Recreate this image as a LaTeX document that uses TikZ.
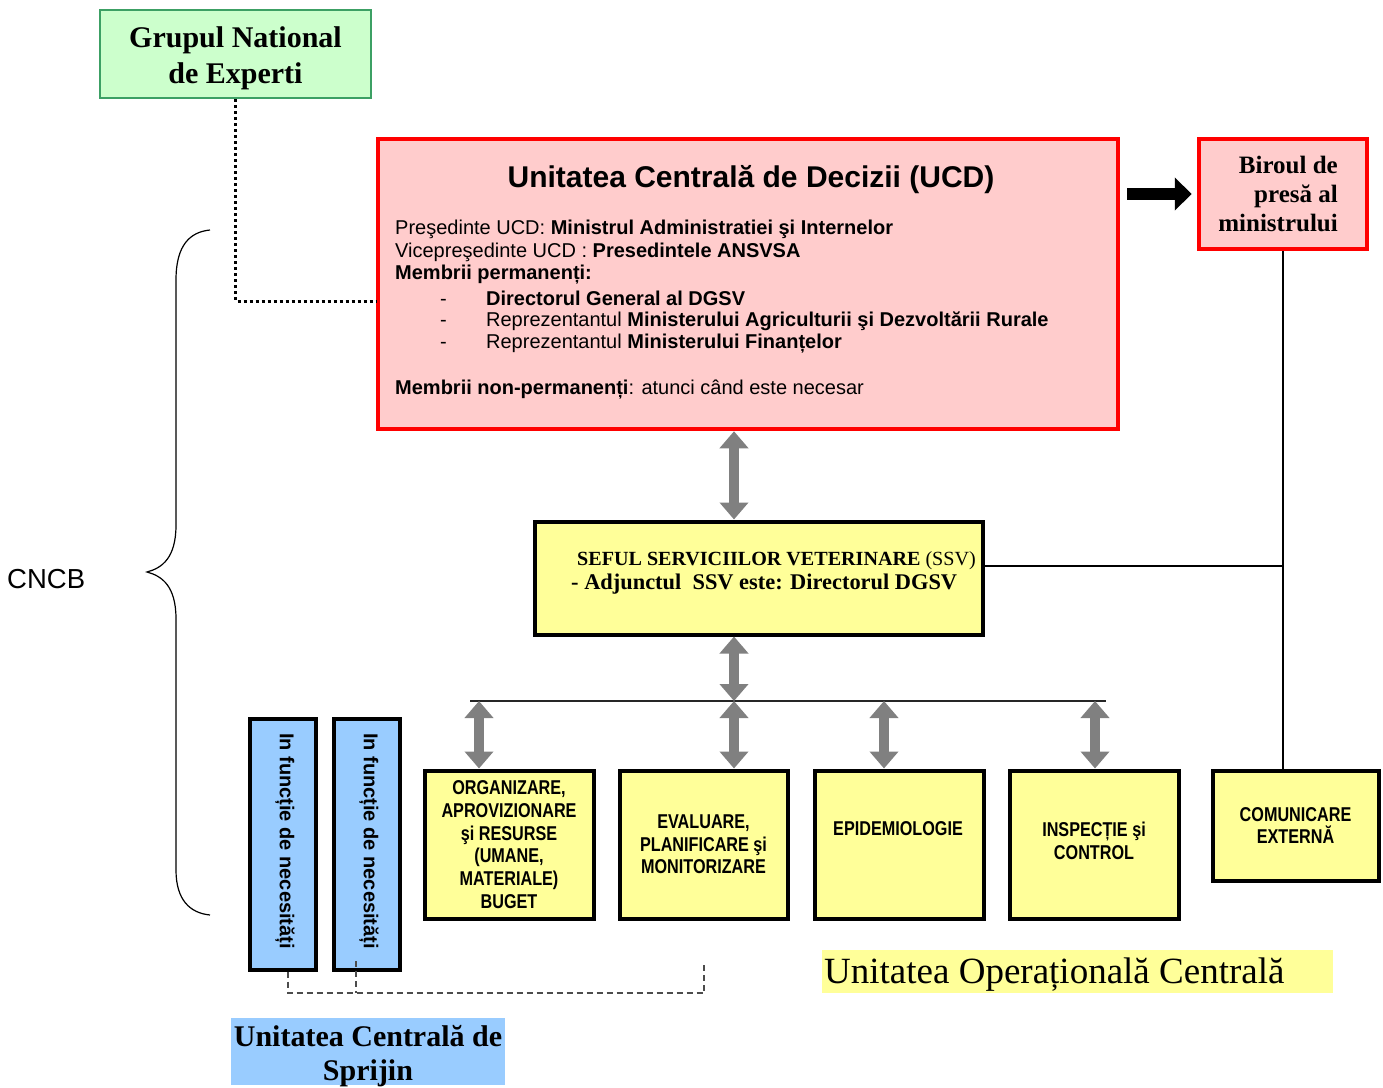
\documentclass[tikz,border=0pt]{standalone}
\usepackage{fontspec}
\setmainfont{Liberation Serif}
\setsansfont{Liberation Sans}
\newfontfamily\narrowsans[FakeStretch=0.81]{Liberation Sans}
\usetikzlibrary{arrows.meta,calc}
\definecolor{pinkfill}{RGB}{255,204,204}
\definecolor{redline}{RGB}{255,0,0}
\definecolor{yellowfill}{RGB}{255,255,153}
\definecolor{bluefill}{RGB}{153,204,255}
\definecolor{greenfill}{RGB}{204,255,204}
\definecolor{greenline}{RGB}{60,160,100}
\definecolor{arrowgray}{RGB}{128,128,128}
\begin{document}
\begin{tikzpicture}[x=1pt,y=-1pt,
  redbox/.style={draw=redline,fill=pinkfill,line width=4.5pt,inner sep=0pt},
  yelbox/.style={draw=black,fill=yellowfill,line width=4pt,inner sep=0pt,align=center,
     font=\narrowsans\bfseries\fontsize{20}{22.7}\selectfont},
  bluebox/.style={draw=black,fill=bluefill,line width=4pt,inner sep=0pt,minimum width=66pt,minimum height=251pt},
  ucdtxt/.style={anchor=west,inner sep=0pt,font=\sffamily\fontsize{20}{23}\selectfont},
  garrow/.style={draw=arrowgray,line width=10pt,
     {Triangle[length=17pt 0,width=28pt 0]}-{Triangle[length=17pt 0,width=28pt 0]}},
  thinline/.style={draw=black,line width=1.5pt},
  dsh/.style={draw=black!70,line width=1.5pt,dash pattern=on 6pt off 4pt},
  dotline/.style={draw=black,line width=3pt,dash pattern=on 3pt off 3pt}
]
\useasboundingbox (0,0) rectangle (1383,1087);

% Grupul National de Experti
\node[draw=greenline,fill=greenfill,line width=2pt,minimum width=271pt,minimum height=88pt,inner sep=0pt] (grup) at (235.5,54) {};
\node[align=center,inner sep=0pt,font=\bfseries\fontsize{30}{36}\selectfont] (grupt) at (235.5,58)
  {Grupul National\\de Experti};

% UCD
\node[redbox,minimum width=740pt,minimum height=290pt] (ucd) at (748,284) {};
\node[inner sep=0pt,font=\sffamily\bfseries\fontsize{30}{34}\selectfont] (ucdt) at (751,180)
  {Unitatea Central\u{a} de Decizii (UCD)};
\node[ucdtxt] (u1) at (395,229) {Pre\c{s}edinte UCD: \textbf{Ministrul Administratiei \c{s}i Internelor}};
\node[ucdtxt] (u2) at (395,252) {Vicepre\c{s}edinte UCD : \textbf{Presedintele ANSVSA}};
\node[ucdtxt] (u3) at (395,275) {\textbf{Membrii permanenți:}};
\node[ucdtxt] (u4) at (395,298) {\hspace*{45pt}\makebox[46pt][l]{-}\textbf{Directorul General al DGSV}};
\node[ucdtxt] (u5) at (395,321) {\hspace*{45pt}\makebox[46pt][l]{-}Reprezentantul \textbf{Ministerului Agriculturii \c{s}i Dezvolt\u{a}rii Rurale}};
\node[ucdtxt] (u6) at (395,344) {\hspace*{45pt}\makebox[46pt][l]{-}Reprezentantul \textbf{Ministerului Finanțelor}};
\node[ucdtxt] (u7) at (395,390) {\textbf{Membrii non-permanenți}: atunci c\^{a}nd este necesar};

% Biroul de presa
\node[redbox,minimum width=168pt,minimum height=110pt] (birou) at (1283,194) {};
\node[anchor=east,align=right,inner sep=0pt,font=\bfseries\fontsize{25}{29}\selectfont] (birout) at (1338,194)
  {Biroul de\\pres\u{a} al\\ministrului};

% SSV
\node[draw=black,fill=yellowfill,line width=4pt,minimum width=448pt,minimum height=113pt,inner sep=0pt] (ssv) at (758.5,578) {};
\node[anchor=west,inner sep=0pt,font=\fontsize{20.1}{23}\selectfont] (ssv1) at (577,561)
  {\textbf{SEFUL SERVICIILOR VETERINARE} (SSV)};
\node[anchor=west,inner sep=0pt,font=\bfseries\fontsize{22.4}{25}\selectfont] (ssv2) at (571,584)
  {- Adjunctul\ \ SSV este: Directorul DGSV};

% bottom boxes
\node[yelbox,minimum width=169pt,minimum height=148pt] (org) at (509,844.5)
  {ORGANIZARE,\\APROVIZIONARE\\\c{s}i RESURSE\\(UMANE,\\MATERIALE)\\BUGET};
\node[yelbox,minimum width=168pt,minimum height=148pt] (eval) at (703.5,844.5)
  {EVALUARE,\\PLANIFICARE \c{s}i\\MONITORIZARE};
\node[yelbox,minimum width=169pt,minimum height=148pt] (epi) at (899,844.5) {};
\node[inner sep=0pt,font=\narrowsans\bfseries\fontsize{20}{22.7}\selectfont] (epit) at (898,829) {EPIDEMIOLOGIE};
\node[yelbox,minimum width=169pt,minimum height=148pt] (insp) at (1094,844.5) {};
\node[inner sep=0pt,align=center,font=\narrowsans\bfseries\fontsize{20}{22.7}\selectfont] (inspt) at (1094,841)
  {INSPECȚIE \c{s}i\\CONTROL};
\node[yelbox,minimum width=166pt,minimum height=110pt] (com) at (1295.5,825.5)
  {COMUNICARE\\EXTERN\u{A}};

% blue boxes
\node[bluebox] (blue1) at (282.5,844) {};
\node[bluebox] (blue2) at (367,844) {};
\node[rotate=-90,inner sep=0pt,font=\sffamily\bfseries\fontsize{20}{24}\selectfont] (b1t) at (285,841)
  {In funcție de necesit\u{a}ți};
\node[rotate=-90,inner sep=0pt,font=\sffamily\bfseries\fontsize{20}{24}\selectfont] (b2t) at (369,841)
  {In funcție de necesit\u{a}ți};

% labels
\node[fill=bluefill,minimum width=274pt,minimum height=67pt,inner sep=0pt] (sprijin) at (368,1051.5) {};
\node[align=center,inner sep=0pt,font=\bfseries\fontsize{30}{34}\selectfont] (sprijint) at (368,1056)
  {Unitatea Central\u{a} de\\Sprijin};
\node[fill=yellowfill,minimum width=511pt,minimum height=43pt,inner sep=0pt] (uocbg) at (1077.5,971.5) {};
\node[anchor=west,inner sep=0pt,font=\fontsize{37}{40}\selectfont] (uoc) at (824,975)
  {Unitatea Operațional\u{a} Central\u{a}};
\node[anchor=west,inner sep=0pt,font=\sffamily\fontsize{27.5}{30}\selectfont] (cncb) at (7,579) {CNCB};

% brace
\draw[line width=1.2pt] (210,230) .. controls (190,232) and (176,245) .. (176,280) -- (176,525)
  .. controls (176,558) and (162,568) .. (147,572)
  .. controls (162,576) and (176,586) .. (176,619) -- (176,870)
  .. controls (176,900) and (190,913) .. (210,915);

% coordinates
\coordinate (ax) at (734,0);
\coordinate (busL) at (470,701);
\coordinate (busR) at (1106,701);
\coordinate (a1) at (479,0);
\coordinate (a2) at (734,0);
\coordinate (a3) at (884,0);
\coordinate (a4) at (1095,0);
\coordinate (jy) at (0,566);
\coordinate (dc) at (236,301);
\coordinate (d1) at (288,993);
\coordinate (d2) at (356,993);
\coordinate (d2t) at (356,961);
\coordinate (d3) at (704,993);
\coordinate (d3t) at (704,965);

% connectors
\draw[dotline] (grup.south) -- (grup.south |- dc) -- (ucd.west |- dc);
\draw[black!85,line width=2pt] (busL) -- (busR);
\draw[garrow] (ucd.south -| ax) -- (ssv.north -| ax);
\draw[garrow] (ssv.south -| ax) -- (busL -| ax);
\draw[garrow] (busL -| a1) -- (org.north -| a1);
\draw[garrow] (busL -| a2) -- (eval.north -| a2);
\draw[garrow] (busL -| a3) -- (epi.north -| a3);
\draw[garrow] (busL -| a4) -- (insp.north -| a4);
\draw[thinline] (birou.south) -- (birou.south |- com.north);
\draw[thinline] (ssv.east |- jy) -- (birou.south |- jy);
\coordinate (arS) at ($(ucd.east |- birou.west)+(7,0)$);
\coordinate (arE) at ($(birou.west)+(-5,0)$);
\draw[line width=12pt,-{Triangle[length=17pt 0,width=32pt 0]}] (arS) -- (arE);
\draw[dsh] (blue1.south -| d1) -- (d1) -- (d3) -- (d3t);
\draw[dsh] (d2t) -- (d2);
\end{tikzpicture}
\end{document}
